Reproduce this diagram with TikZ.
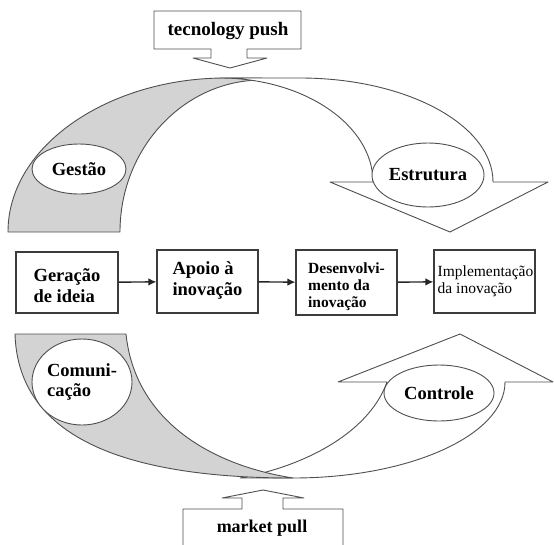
\documentclass[tikz,border=0pt]{standalone}
\usepackage{fontspec}
\setmainfont{Liberation Serif}
\usetikzlibrary{arrows.meta,shapes.geometric}
\definecolor{linegray}{HTML}{4F4F4F}
\definecolor{bandgray}{HTML}{D3D3D3}
\definecolor{boxgray}{HTML}{3C3C3C}
\begin{document}
\begin{tikzpicture}[x=1pt,y=-1pt,
  edge/.style={draw=linegray, line width=0.9pt, line join=round},
  band/.style={edge, fill=bandgray},
  oval/.style={ellipse, draw=linegray, line width=0.9pt, fill=white, inner sep=0pt},
  stage/.style={draw=boxgray, line width=1.1pt, fill=white, inner sep=0pt},
  stagetext/.style={inner sep=0pt, align=left},
  flow/.style={-{Latex[length=8pt,width=7.5pt]}, line width=1.4pt, draw=black!85},
  lbl/.style={font=\bfseries\fontsize{18.5}{20.5}\selectfont}
]
\useasboundingbox (0,0) rectangle (554,544);

% input callouts
\draw[edge, fill=white] (154,11) -- (301,11) -- (301,49) -- (247,49) -- (247,58)
  -- (267,58) -- (230,68) -- (193,58) -- (211,58) -- (211,49) -- (154,49) -- cycle;
\node[lbl, font=\bfseries\fontsize{19}{21}\selectfont] (push) at (228,31) {tecnology push};

\draw[edge, fill=white] (183,550) -- (183,509) -- (242,509) -- (242,498) -- (222,498)
  -- (263,490) -- (304,498) -- (283,498) -- (283,509) -- (343,509) -- (343,550);
\node[lbl, font=\bfseries\fontsize{18}{20}\selectfont] (pull) at (262,528) {market pull};

% upper loop: shaded band under the white arrow band
\draw[band] (8,232) .. controls (8,145) and (110,78) .. (225,78) -- (262,78) -- (262,80)
  .. controls (184,80) and (120,148) .. (120,232) -- cycle;
\draw[edge, fill=white] (220,78) -- (300,78) .. controls (407,78) and (493,125) .. (493,182)
  -- (548,182) -- (450,232) -- (330,182) -- (373,182)
  .. controls (373,125) and (304,78) .. (220,78) -- cycle;

% lower loop: white arrow band under the shaded band
\draw[edge, fill=white] (240,478) -- (293,478) .. controls (410,478) and (505,435) .. (505,382)
  -- (553,382) -- (460,334) -- (338,382) -- (387,382)
  .. controls (370,430) and (310,465) .. (240,478) -- cycle;
\draw[band] (15,334) -- (126,334) .. controls (135,420) and (210,465) .. (293,478)
  .. controls (120,478) and (18,435) .. (15,334) -- cycle;

% labels on the loops
\node[oval, lbl, minimum width=94pt, minimum height=50pt] (gest) at (79,169) {Gestão};
\node[oval, lbl, minimum width=112pt, minimum height=64pt] (estr) at (428,175) {Estrutura};
\node[oval, lbl, minimum width=100pt, minimum height=86pt, align=left] (comu) at (82,382) {Comuni-\\cação};
\node[oval, lbl, minimum width=110pt, minimum height=56pt] (ctrl) at (439,393) {Controle};

% innovation stages
\node[stage, minimum width=102pt, minimum height=61pt] (s1) at (67,282.5) {};
\node[stage, minimum width=101pt, minimum height=63pt] (s2) at (207.5,281.5) {};
\node[stage, minimum width=101pt, minimum height=65pt] (s3) at (346.5,282.5) {};
\node[stage, minimum width=101pt, minimum height=63pt] (s4) at (484.5,281.5) {};

\node[stagetext, lbl, yshift=-3pt] (t1) at (s1) {Geração\\de ideia};
\node[stagetext, lbl, yshift=1pt] (t2) at (s2) {Apoio à\\inovação};
\node[stagetext, font=\bfseries\fontsize{15.5}{17}\selectfont, yshift=-4pt] (t3) at (s3)
  {Desenvolvi-\\mento da\\inovação};
\node[stagetext, font=\fontsize{15.5}{16.5}\selectfont, xshift=1pt] (t4) at (s4)
  {Implementação\\da inovação};

\draw[flow] (s1) -- (s2);
\draw[flow] (s2) -- (s3);
\draw[flow] (s3) -- (s4);
\end{tikzpicture}
\end{document}
